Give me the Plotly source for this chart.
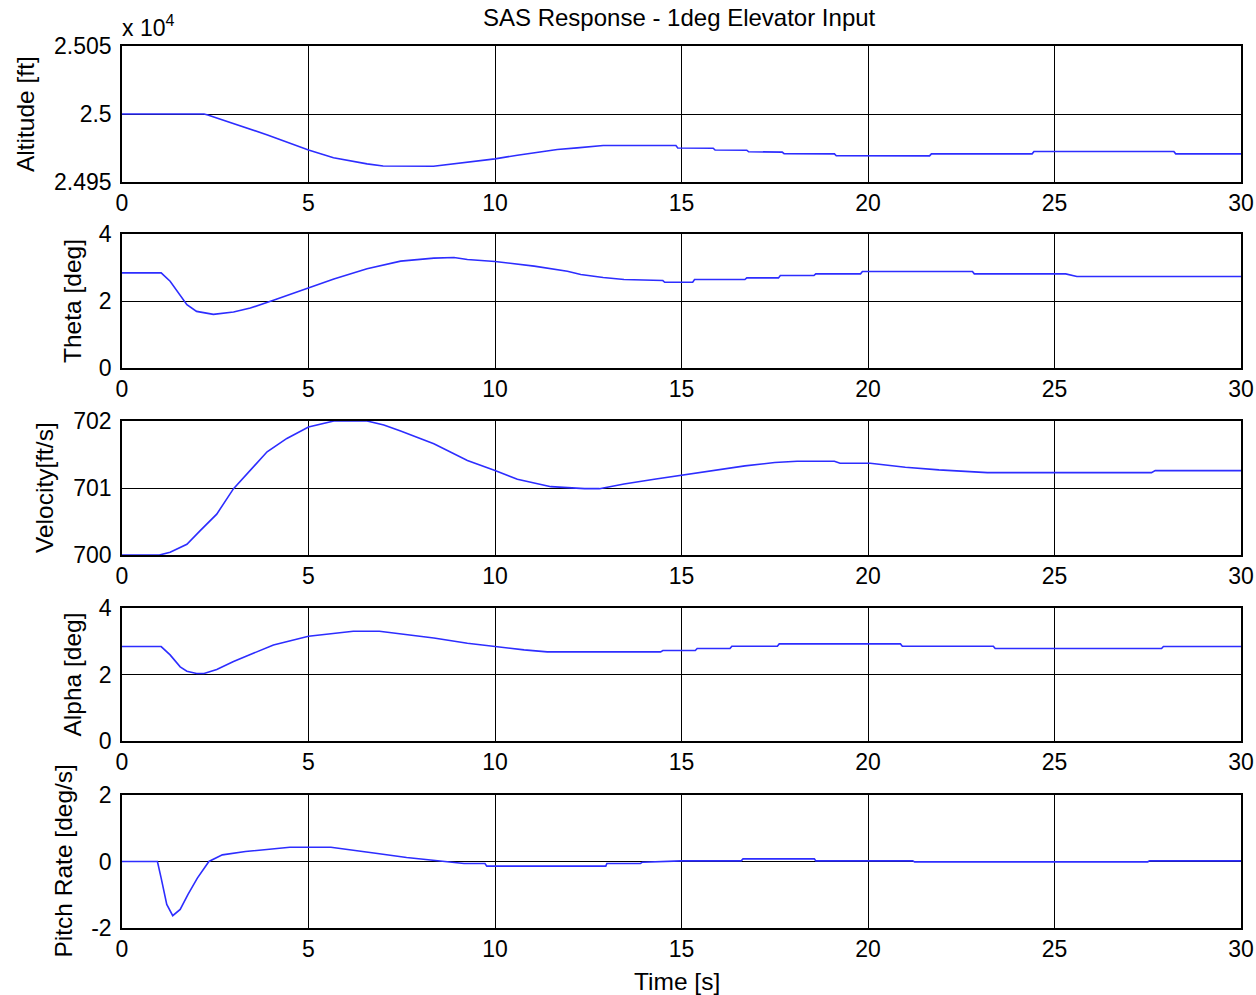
import plotly.graph_objects as go
from plotly.subplots import make_subplots

# ---------------- data ----------------
t_alt = [0, 2.2, 2.3, 3.0, 3.9, 5.0, 5.67, 6.57, 7.0, 8.35, 8.9, 9.44, 10.0, 10.6, 11.2, 11.67,
         12.2, 12.9, 14.85, 14.9, 15.85, 15.9, 16.75, 16.8, 17.7, 17.75, 19.1, 19.15, 21.65,
         21.7, 24.4, 24.45, 28.2, 28.25, 30]
altitude = [25000, 25000, 24999.3, 24993, 24984.6, 24973.5, 24967.8, 24963.3, 24961.8, 24961.6,
            24963.5, 24965.5, 24967, 24969.7, 24972.2, 24973.9, 24975.1, 24976.8, 24976.8,
            24975.0, 24974.8, 24973.5, 24973.4, 24972.2, 24972.0, 24970.8, 24970.7, 24969.3,
            24969.2, 24970.7, 24970.7, 24972.4, 24972.4, 24970.7, 24970.7]

t_theta = [0, 1.05, 1.29, 1.56, 1.74, 2.0, 2.45, 2.99, 3.44, 4.06, 5.0, 5.68, 6.57, 7.47, 8.36,
           8.9, 9.26, 10.0, 11.05, 11.94, 12.3, 12.9, 13.46, 14.5, 14.55, 15.3, 15.35, 16.7,
           16.75, 17.6, 17.65, 18.55, 18.6, 19.8, 19.85, 22.8, 22.85, 25.3, 25.6, 30]
theta = [2.84, 2.84, 2.59, 2.19, 1.89, 1.69, 1.60, 1.67, 1.79, 2.02, 2.39, 2.66, 2.96, 3.19, 3.28,
         3.30, 3.24, 3.18, 3.04, 2.89, 2.79, 2.70, 2.64, 2.61, 2.56, 2.56, 2.64, 2.64,
         2.69, 2.69, 2.76, 2.76, 2.81, 2.81, 2.88, 2.88, 2.81, 2.81, 2.73, 2.73]

t_vel = [0, 1.0, 1.29, 1.74, 2.09, 2.54, 2.99, 3.44, 3.89, 4.42, 5.0, 5.68, 6.57, 7.02, 7.47, 8.36,
         9.26, 10.0, 10.6, 11.5, 12.4, 12.8, 13.46, 14.27, 15.0, 15.78, 16.7, 17.5, 18.1, 19.1,
         19.25, 20.06, 20.4, 21.0, 21.9, 22.7, 23.2, 27.6, 27.7, 30]
velocity = [700, 700, 700.04, 700.16, 700.36, 700.61, 700.99, 701.26, 701.54, 701.74, 701.91,
            702.0, 702.0, 701.94, 701.85, 701.66, 701.41, 701.26, 701.13, 701.02, 700.99, 700.99,
            701.06, 701.13, 701.19, 701.26, 701.33, 701.38, 701.40, 701.40, 701.37, 701.37,
            701.35, 701.31, 701.27, 701.25, 701.23, 701.23, 701.26, 701.26]

t_alpha = [0, 1.05, 1.29, 1.56, 1.74, 2.0, 2.2, 2.54, 2.99, 3.44, 4.06, 5.0, 5.68, 6.2, 6.9, 7.47,
           8.36, 9.26, 10.0, 10.78, 11.4, 14.44, 14.5, 15.37, 15.42, 16.3, 16.35, 17.57, 17.62,
           20.87, 20.92, 23.36, 23.41, 27.87, 27.92, 30]
alpha = [2.84, 2.84, 2.59, 2.23, 2.10, 2.03, 2.03, 2.15, 2.39, 2.59, 2.89, 3.15, 3.23, 3.30, 3.30,
         3.23, 3.10, 2.94, 2.84, 2.74, 2.68, 2.68, 2.72, 2.72, 2.78, 2.78, 2.85, 2.85, 2.92,
         2.92, 2.85, 2.85, 2.78, 2.78, 2.84, 2.84]

t_q = [0, 0.95, 1.05, 1.2, 1.36, 1.56, 1.77, 2.02, 2.33, 2.69, 3.31, 3.93, 4.5, 5.6, 6.08, 6.8,
       7.63, 8.24, 8.65, 9.17, 9.73, 9.78, 12.97, 13.0, 13.9, 13.95, 15.0, 16.6, 16.65, 18.56,
       18.6, 21.2, 21.25, 27.5, 27.55, 30]
pitch_rate = [0, 0, -0.5, -1.29, -1.63, -1.44, -0.99, -0.5, 0, 0.2, 0.30, 0.37, 0.43, 0.43, 0.35,
              0.25, 0.12, 0.04, 0, -0.06, -0.06, -0.14, -0.14, -0.06, -0.06, -0.02, 0.02, 0.02,
              0.08, 0.08, 0.02, 0.02, -0.01, -0.01, 0.02, 0.02]

x_ticks = [0, 5, 10, 15, 20, 25, 30]
alt_ticks = [24950, 25000, 25050]
alt_ticktext = ["2.495", "2.5", "2.505"]
theta_ticks = [0, 2, 4]
vel_ticks = [700, 701, 702]
alpha_ticks = [0, 2, 4]
q_ticks = [-2, 0, 2]
q_ticktext = ["-2", "0", "2"]
y_titles = ["Altitude [ft]", "Theta [deg]", "Velocity[ft/s]", "Alpha [deg]", "Pitch Rate [deg/s]"]

# ---------------- figure ----------------
FONT = "Liberation Sans, Arial, sans-serif"
FS = 23
W, H = 1256, 995
AX_L, AX_R, AX_T, AX_B = 122, 1241, 46, 928
ML, MR, MT, MB = AX_L, W - AX_R, AX_T, H - AX_B
PW, PH = AX_R - AX_L, H - MT - MB

panels_px = [(46, 182), (234, 368), (421, 555), (608, 741), (795, 928)]


def ypaper(py):
    return (AX_B - py) / PH


def xpaper(px):
    return (px - AX_L) / PW


fig = make_subplots(rows=5, cols=1)

series = [(t_alt, altitude), (t_theta, theta), (t_vel, velocity), (t_alpha, alpha), (t_q, pitch_rate)]
for i, (tx, vy) in enumerate(series):
    fig.add_trace(go.Scatter(x=tx, y=vy, mode="lines",
                             line=dict(color="rgb(45,45,255)", width=1.6),
                             showlegend=False, hoverinfo="skip"), row=i + 1, col=1)

yranges = [[24950, 25050], [0, 4], [700, 702], [0, 4], [-2, 2]]
ytickvals = [alt_ticks, theta_ticks, vel_ticks, alpha_ticks, q_ticks]
yticktext = [alt_ticktext, [str(v) for v in theta_ticks], [str(v) for v in vel_ticks],
             [str(v) for v in alpha_ticks], q_ticktext]

base = dict(showline=True, mirror=True, linecolor="black", linewidth=1.5,
            showgrid=True, gridcolor="black", gridwidth=1, zeroline=False,
            ticks="outside", tickcolor="rgba(0,0,0,0)", ticklabeloverflow="allow",
            automargin=False,
            tickfont=dict(family=FONT, size=FS, color="black"))

for i in range(5):
    top, bot = panels_px[i]
    xa = "xaxis" if i == 0 else f"xaxis{i+1}"
    ya = "yaxis" if i == 0 else f"yaxis{i+1}"
    fig.layout[xa].update(dict(range=[0, 30], tickvals=x_ticks, domain=[0, 1], ticklen=0, **base))
    fig.layout[ya].update(dict(range=yranges[i], domain=[ypaper(bot), ypaper(top)],
                               tickvals=ytickvals[i], ticktext=yticktext[i], ticklen=4, **base))

annotations = []
title_x_px = [25, 72, 45, 72, 63]
for i, txt in enumerate(y_titles):
    top, bot = panels_px[i]
    annotations.append(dict(text=txt, xref="paper", yref="paper",
                            x=xpaper(title_x_px[i]), y=ypaper((top + bot) / 2),
                            xanchor="center", yanchor="middle", textangle=-90, showarrow=False,
                            font=dict(family=FONT, size=24.5, color="black")))

annotations.append(dict(text="Time [s]", xref="paper", yref="paper",
                        x=xpaper(677), y=ypaper(981), xanchor="center", yanchor="middle",
                        showarrow=False, font=dict(family=FONT, size=24.5, color="black")))
annotations.append(dict(text="SAS Response - 1deg Elevator Input", xref="paper", yref="paper",
                        x=xpaper(679), y=ypaper(18), xanchor="center", yanchor="middle",
                        showarrow=False, font=dict(family=FONT, size=24, color="black")))
annotations.append(dict(text="x 10<sup>4</sup>", xref="paper", yref="paper",
                        x=xpaper(120), y=ypaper(26), xanchor="left", yanchor="middle",
                        showarrow=False, font=dict(family=FONT, size=FS, color="black")))

fig.update_layout(width=W, height=H, autosize=False, margin=dict(l=ML, r=MR, t=MT, b=MB),
                  paper_bgcolor="white", plot_bgcolor="white", annotations=annotations,
                  font=dict(family=FONT, size=FS, color="black"))

post = ("document.body.style.margin='0';"
        "document.body.style.overflow='hidden';"
        "document.documentElement.style.overflow='hidden';")

fig.write_html("out.html", config={"displayModeBar": False}, post_script=post)
